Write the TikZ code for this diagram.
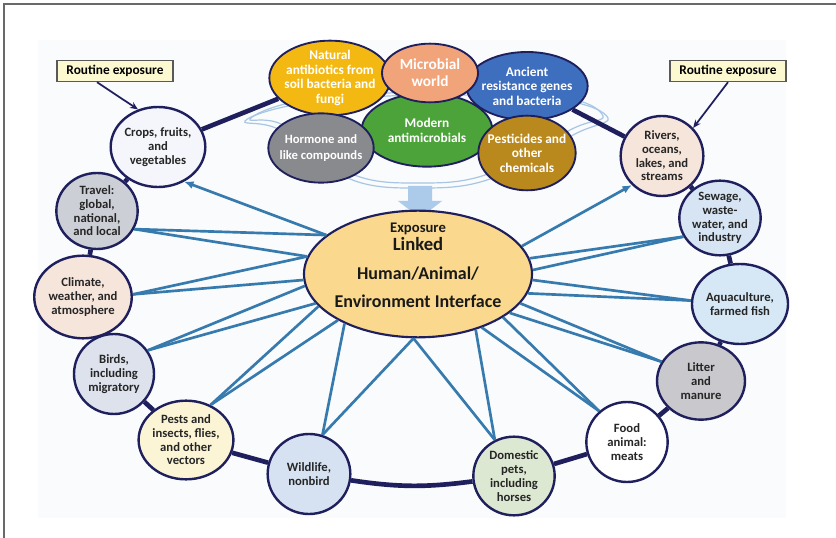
\documentclass[tikz,border=0pt]{standalone}
\usepackage{fontspec}
\setmainfont{Carlito}
\usepackage{xcolor}
\usetikzlibrary{shapes.geometric,arrows.meta}

\definecolor{paper}{RGB}{249,251,253}
\definecolor{framegray}{RGB}{105,105,105}
\definecolor{ringnavy}{RGB}{30,31,92}
\definecolor{spokeblue}{RGB}{54,122,174}
\definecolor{swirlblue}{RGB}{168,198,228}
\definecolor{dropblue}{RGB}{172,202,234}
\definecolor{hubfill}{RGB}{250,217,142}
\definecolor{natfill}{RGB}{243,185,18}
\definecolor{micfill}{RGB}{241,164,122}
\definecolor{ancfill}{RGB}{62,110,190}
\definecolor{modfill}{RGB}{76,163,58}
\definecolor{hormfill}{RGB}{137,138,142}
\definecolor{pestfill}{RGB}{186,137,30}
\definecolor{boxfill}{RGB}{252,248,208}
\definecolor{cropfill}{RGB}{244,246,251}
\definecolor{travfill}{RGB}{205,207,214}
\definecolor{peachfill}{RGB}{246,229,219}
\definecolor{birdfill}{RGB}{221,226,236}
\definecolor{pestsfill}{RGB}{251,245,214}
\definecolor{wildfill}{RGB}{214,226,242}
\definecolor{petfill}{RGB}{221,232,210}
\definecolor{litfill}{RGB}{200,200,205}
\definecolor{aquafill}{RGB}{214,232,246}
\definecolor{sewfill}{RGB}{214,228,243}

\begin{document}
\begin{tikzpicture}[x=0.75pt,y=0.75pt,yscale=-1,xscale=1,
  site/.style={ellipse,draw=ringnavy,line width=1.8pt,inner sep=0pt,align=center,
    text=black!85,font=\fontsize{9.5}{10.3}\selectfont\bfseries},
  blob/.style={ellipse,draw=ringnavy,line width=1.4pt,inner sep=0pt},
  blobtext/.style={align=center,text=white,inner sep=0pt,font=\fontsize{10}{10.8}\selectfont\bfseries},
  hubtext/.style={anchor=base,inner sep=0pt,text=black!90,font=\fontsize{13.5}{14}\selectfont\bfseries},
  ringline/.style={draw=ringnavy,line width=3.5pt},
  spoke/.style={draw=spokeblue,line width=2pt},
  routine/.style={draw=black!65,line width=0.8pt,fill=boxfill,minimum width=87pt,
    minimum height=16pt,inner sep=0pt,font=\fontsize{10}{12}\selectfont\bfseries},
  routearrow/.style={draw=ringnavy,line width=1.3pt,-{Stealth[length=6pt,width=5pt]}},
  swirl/.style={draw=swirlblue,line width=0.9pt}
]
\useasboundingbox (0,0) rectangle (836,538);

%Shape: Background and frame
\fill[paper] (38,40) rectangle (786,518);
\draw[framegray,line width=0.8pt] (4,540) -- (4,4) -- (840,4);

%Curve Lines: orbit round the sources
\draw[swirl] plot[smooth cycle,tension=0.6] coordinates {(245,121) (280,130) (350,179) (420,188) (490,179) (575,134) (608,118) (560,100) (420,95) (300,104)};
\draw[swirl] plot[smooth cycle,tension=0.6] coordinates {(250,119) (283,125) (352,174) (420,183) (488,174) (572,129) (603,116) (560,97) (420,92) (300,101)};

%Shape: Down arrow
\fill[dropblue] (408,186) -- (432,186) -- (432,201) -- (442,201) -- (420,218) -- (398,201) -- (408,201) -- cycle;

%Shape: Ellipse (sources)
\node[blob,fill=natfill,minimum width=91pt,minimum height=56pt] (natab) at (330,78) {};
\node[blobtext] (natabtxt) at (natab) {Natural\\antibiotics from\\soil bacteria and\\fungi};
\node[blob,fill=ancfill,minimum width=91pt,minimum height=51pt] (ancient) at (527,86) {};
\node[blobtext] (ancienttxt) at (ancient) {Ancient\\resistance genes\\and bacteria};
\node[blob,fill=modfill,minimum width=98pt,minimum height=55pt] (modern) at (427,130) {};
\node[blobtext,font=\fontsize{10}{11.2}\selectfont\bfseries] (moderntxt) at (modern) {Modern\\antimicrobials};
\node[blob,fill=micfill,minimum width=72pt,minimum height=44pt] (microbe) at (430,73) {};
\node[blobtext,font=\fontsize{11.5}{12.5}\selectfont\bfseries] (microbetxt) at (microbe) {Microbial\\world};
\node[blob,fill=hormfill,minimum width=79pt,minimum height=52pt] (hormone) at (321,148) {};
\node[blobtext,font=\fontsize{9.5}{12}\selectfont\bfseries] (hormonetxt) at (hormone) {Hormone and\\like compounds};
\node[blob,fill=pestfill,minimum width=73pt,minimum height=56pt] (chem) at (527,153) {};
\node[blobtext] (chemtxt) at (chem) {Pesticides and\\other\\chemicals};

%Shape: Ellipse (interface)
\node[blob,fill=hubfill,line width=1.6pt,minimum width=171pt,minimum height=95pt] (hub) at (418,274) {};
% Text Node
\node[hubtext,font=\fontsize{11}{12}\selectfont\bfseries] (hubexp) at (418,233) {Exposure};
\node[hubtext,font=\fontsize{14}{15}\selectfont\bfseries] (hublink) at (418,251) {Linked};
\node[hubtext] (hubmid) at (418,280) {Human/Animal/};
\node[hubtext] (hubenv) at (418,308) {Environment Interface};

%Shape: Circle (sites on the ring)
\node[site,fill=cropfill,minimum width=60pt,minimum height=60pt] (crops) at (158,147) {Crops, fruits,\\and\\vegetables};
\node[site,fill=travfill,minimum width=61pt,minimum height=57pt] (travel) at (97,211) {Travel:\\global,\\national,\\and local};
\node[site,fill=peachfill,minimum width=63pt,minimum height=62pt] (climate) at (83,297) {Climate,\\weather, and\\atmosphere};
\node[site,fill=birdfill,minimum width=60pt,minimum height=60pt] (birds) at (114,374) {Birds,\\including\\migratory};
\node[site,fill=pestsfill,minimum width=69pt,minimum height=59pt] (pests) at (186,440) {Pests and\\insects, flies,\\and other\\vectors};
\node[site,fill=wildfill,minimum width=62pt,minimum height=60pt] (wild) at (309,474) {Wildlife,\\nonbird};
\node[site,fill=petfill,minimum width=61pt,minimum height=59pt] (pets) at (514,476) {Domestic\\pets,\\including\\horses};
\node[site,fill=white,minimum width=61pt,minimum height=60pt] (food) at (627,442) {Food\\animal:\\meats};
\node[site,fill=litfill,minimum width=66pt,minimum height=58pt] (litter) at (701,381) {Litter\\and\\manure};
\node[site,fill=aquafill,minimum width=66pt,minimum height=60pt] (aqua) at (740,304) {Aquaculture,\\farmed fish};
\node[site,fill=sewfill,minimum width=61pt,minimum height=56pt] (sewage) at (720,218) {Sewage,\\waste-\\water, and\\industry};
\node[site,fill=peachfill,minimum width=62pt,minimum height=60pt] (rivers) at (662,156) {Rivers,\\oceans,\\lakes, and\\streams};

%Straight Lines: the ring
\foreach \a/\b in {natab/crops,crops/travel,travel/climate,climate/birds,birds/pests,pests/wild,pets/food,food/litter,litter/aqua,aqua/sewage,sewage/rivers,rivers/ancient}
  \draw[ringline] (\a) -- (\b);
\draw[ringline] (wild) to[bend left=8] (pets);

%Straight Lines: spokes
\foreach \s/\p/\q in {travel/-26/157,travel/-26/171,climate/3/171,climate/3/183,birds/35/186,birds/35/196,pests/55/198,pests/55/210,wild/71/214,wild/71/266,pets/118/266,pets/118/316,food/132/320,food/132/333,litter/154/337,litter/154/344,aqua/176/350,aqua/176/357,sewage/207/2,sewage/207/8}
  \draw[spoke] (\s.\p) -- (hub.\q);
\draw[spoke,-{Latex[length=7pt,width=6pt]}] (hub.157) -- (crops.-53);
\draw[spoke,-{Latex[length=7pt,width=6pt]}] (hub.15) -- (rivers.224);

%Shape: Rectangle
\node[routine] (routineL) at (115,71) {Routine exposure};
\node[routine] (routineR) at (728,71) {Routine exposure};
%Straight Lines
\draw[routearrow] ([xshift=-13.5pt]routineL.south) -- (crops.118);
\draw[routearrow] (routineR.south) -- (rivers.42);

\end{tikzpicture}
\end{document}
